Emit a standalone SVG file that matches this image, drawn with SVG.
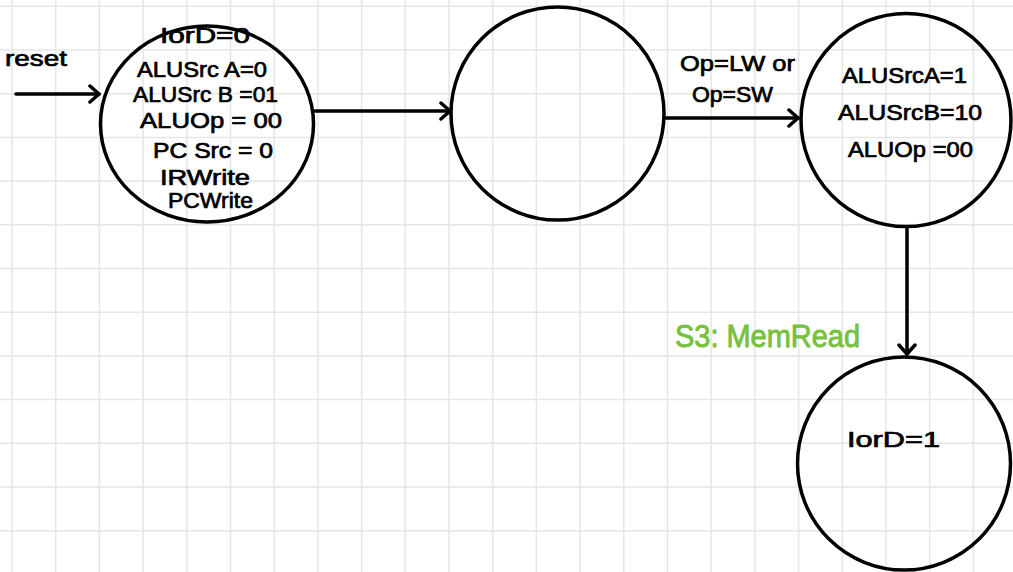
<svg xmlns="http://www.w3.org/2000/svg" width="1013" height="572" viewBox="0 0 1013 572">
  <style>
    .grid { stroke: #e6e6e6; stroke-width: 1.5; fill: none; }
    .state { fill: none; stroke: #000; stroke-width: 3.5; }
    .edge { fill: none; stroke: #000; stroke-width: 3.5; stroke-linecap: round; }
    .lbl { font-family: "Liberation Sans", Arial, sans-serif; font-size: 22px; fill: #000; stroke: #000; stroke-width: 0.7; }
    .note { font-family: "Liberation Sans", Arial, sans-serif; font-size: 31px; fill: #78c13f; stroke: #78c13f; stroke-width: 0.9; }
  </style>
  <defs>
    <marker id="chev" viewBox="-12 -10 14 20" markerWidth="14" markerHeight="20" markerUnits="userSpaceOnUse" refX="0" refY="0" orient="auto">
      <path d="M-9,-8 L0,0 L-9,8" fill="none" stroke="#000" stroke-width="3.5" stroke-linecap="round" stroke-linejoin="round"/>
    </marker>
  </defs>

  <rect width="1013" height="572" fill="#fff"/>

  <!-- squared paper background, 43.7px pitch -->
  <path class="grid" d="M12,0V572 M55.7,0V572 M99.4,0V572 M143.1,0V572 M186.8,0V572 M230.5,0V572 M274.2,0V572 M317.9,0V572 M361.6,0V572 M405.3,0V572 M449,0V572 M492.7,0V572 M536.4,0V572 M580.1,0V572 M623.8,0V572 M667.5,0V572 M711.2,0V572 M754.9,0V572 M798.6,0V572 M842.3,0V572 M886,0V572 M929.7,0V572 M973.4,0V572
    M0,6.3H1013 M0,50H1013 M0,93.7H1013 M0,137.4H1013 M0,181.1H1013 M0,224.8H1013 M0,268.5H1013 M0,312.2H1013 M0,355.9H1013 M0,399.6H1013 M0,443.3H1013 M0,487H1013 M0,530.7H1013"/>

  <!-- transitions -->
  <g id="connectors">
    <path class="edge" d="M16,94 H99" marker-end="url(#chev)"/>
    <path class="edge" d="M315,111 H450" marker-end="url(#chev)"/>
    <path class="edge" d="M665,118 H798" marker-end="url(#chev)"/>
    <path class="edge" d="M907,228 V354" marker-end="url(#chev)"/>
    <text class="lbl" x="5" y="66" textLength="62" lengthAdjust="spacingAndGlyphs" font-size="24">reset</text>
    <text class="lbl" x="680" y="71" textLength="115" lengthAdjust="spacingAndGlyphs">Op=LW or</text>
    <text class="lbl" x="692" y="102" textLength="81" lengthAdjust="spacingAndGlyphs">Op=SW</text>
  </g>

  <!-- S0: fetch -->
  <g id="s0">
    <ellipse class="state" cx="207" cy="124" rx="106.5" ry="98"/>
    <text class="lbl" x="160" y="43" textLength="90" lengthAdjust="spacingAndGlyphs">IorD=0</text>
    <text class="lbl" x="137" y="77" textLength="130" lengthAdjust="spacingAndGlyphs">ALUSrc A=0</text>
    <text class="lbl" x="133" y="102" textLength="145" lengthAdjust="spacingAndGlyphs">ALUSrc B =01</text>
    <text class="lbl" x="140" y="128" textLength="142" lengthAdjust="spacingAndGlyphs">ALUOp = 00</text>
    <text class="lbl" x="153" y="158" textLength="120" lengthAdjust="spacingAndGlyphs">PC Src = 0</text>
    <text class="lbl" x="160" y="185" textLength="90" lengthAdjust="spacingAndGlyphs">IRWrite</text>
    <text class="lbl" x="168" y="208" textLength="85" lengthAdjust="spacingAndGlyphs">PCWrite</text>
  </g>

  <!-- S1: decode -->
  <g id="s1">
    <ellipse class="state" cx="557.5" cy="113.5" rx="106.5" ry="106.5"/>
  </g>

  <!-- S2: memory address -->
  <g id="s2">
    <ellipse class="state" cx="906" cy="120" rx="105" ry="106.5"/>
    <text class="lbl" x="842" y="83" textLength="125" lengthAdjust="spacingAndGlyphs">ALUSrcA=1</text>
    <text class="lbl" x="838" y="120" textLength="144" lengthAdjust="spacingAndGlyphs">ALUSrcB=10</text>
    <text class="lbl" x="848" y="157" textLength="125" lengthAdjust="spacingAndGlyphs">ALUOp =00</text>
  </g>

  <!-- S3: memory read -->
  <g id="s3">
    <ellipse class="state" cx="904" cy="463.5" rx="106.5" ry="106.5"/>
    <text class="lbl" x="847" y="447" textLength="93" lengthAdjust="spacingAndGlyphs" font-size="24">IorD=1</text>
    <text class="note" x="675" y="347" textLength="185" lengthAdjust="spacingAndGlyphs">S3: MemRead</text>
  </g>
</svg>
